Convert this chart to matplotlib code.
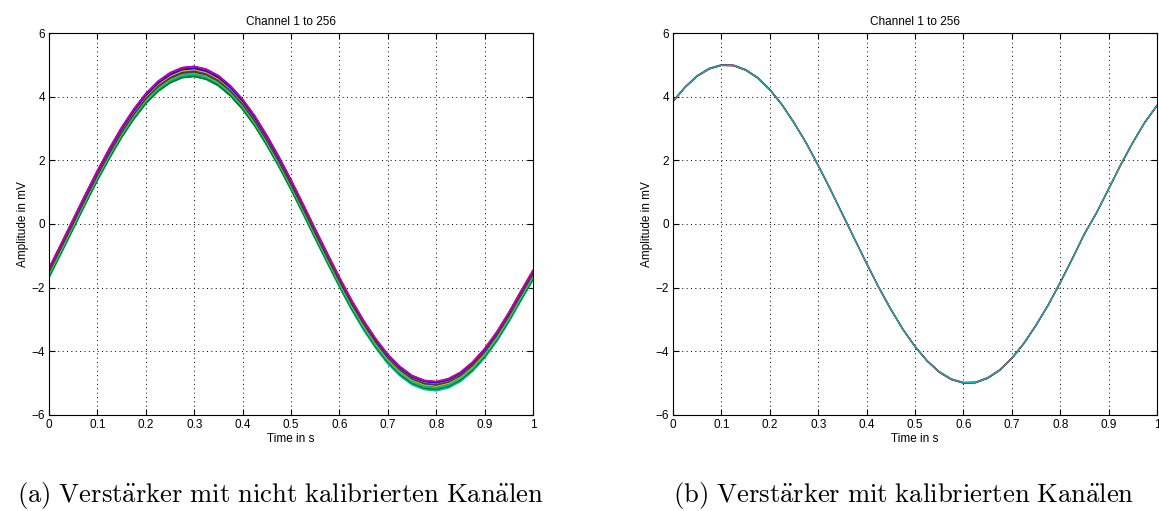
import matplotlib
matplotlib.use("Agg")
import matplotlib.pyplot as plt
import numpy as np

# ---- data ----
time_s = [round(0.025 * k, 3) for k in range(41)]
uncal_base = [-1.53, -0.77, 0.00, 0.77, 1.52, 2.22, 2.87, 3.44, 3.93, 4.31,
              4.58, 4.74, 4.78, 4.69, 4.49, 4.17, 3.75, 3.23, 2.62, 1.95,
              1.23, 0.47, -0.31, -1.07, -1.82, -2.53, -3.17, -3.74, -4.23, -4.61,
              -4.89, -5.04, -5.08, -4.99, -4.79, -4.47, -4.05, -3.53, -2.92, -2.25,
              -1.60]
uncal_offsets = [0.02, -0.12, 0.13, -0.09, 0.14, 0.11, -0.01,
                 -0.04, -0.14, 0.08, -0.13, 0.12, 0.06, 0.03,
                 0.04, -0.10, 0.10, -0.11, 0.05, -0.06, 0.00,
                 -0.06, -0.08, 0.09, -0.15, 0.13, 0.07, -0.03,
                 0.10, -0.13, 0.15, -0.07, 0.15, -0.02, 0.01]
uncal_gains = [1.004, 0.998, 1.003, 0.996, 1.005, 1.000, 0.999,
               1.000, 1.002, 0.997, 0.998, 1.004, 1.002, 1.001,
               1.000, 0.996, 1.004, 0.998, 1.000, 0.999, 1.002,
               0.999, 1.000, 0.997, 1.002, 1.004, 1.000, 0.999,
               1.002, 0.997, 1.004, 1.000, 1.005, 0.999, 0.997]

cal_base = [3.85, 4.30, 4.65, 4.88, 4.99, 4.98, 4.84, 4.59, 4.22, 3.75,
            3.18, 2.55, 1.84, 1.09, 0.31, -0.47, -1.24, -1.99, -2.68, -3.31,
            -3.85, -4.30, -4.65, -4.88, -4.99, -4.98, -4.84, -4.59, -4.22, -3.75,
            -3.18, -2.55, -1.84, -1.09, -0.31, 0.35, 1.10, 1.86, 2.56, 3.20,
            3.72]
cal_offsets = [0.015, -0.015, 0.01, -0.01, 0.0, -0.005, 0.0]

matlab_colors = [(0, 0, 1), (0, 0.5, 0), (1, 0, 0), (0, 0.75, 0.75),
                 (0.75, 0, 0.75), (0.75, 0.75, 0), (0.25, 0.25, 0.25)]

x_ticks = [0, 0.1, 0.2, 0.3, 0.4, 0.5, 0.6, 0.7, 0.8, 0.9, 1]
x_tick_labels = ["0", "0.1", "0.2", "0.3", "0.4", "0.5", "0.6", "0.7", "0.8", "0.9", "1"]
y_ticks = [-6, -4, -2, 0, 2, 4, 6]

plt.rcParams['font.family'] = ['Liberation Sans', 'DejaVu Sans']
plt.rcParams['mathtext.fontset'] = 'cm'

fig = plt.figure(figsize=(11.59, 5.11), dpi=100)
ax1 = fig.add_axes([0.0423, 0.1879, 0.4176, 0.7475])
ax2 = fig.add_axes([0.5807, 0.1879, 0.4176, 0.7475])

t = np.array(time_s)
base_u = np.array(uncal_base)
for i, (o, g) in enumerate(zip(uncal_offsets, uncal_gains)):
    ax1.plot(t, base_u * g + o, color=matlab_colors[i % 7], lw=1.1)

base_c = np.array(cal_base)
for i, o in enumerate(cal_offsets):
    ax2.plot(t, base_c + o, color=matlab_colors[(i + 4) % 7], lw=0.8)

for ax in (ax1, ax2):
    ax.set_xlim(0, 1)
    ax.set_ylim(-6, 6)
    ax.set_xticks(x_ticks)
    ax.set_xticklabels(x_tick_labels)
    ax.set_yticks(y_ticks)
    ax.tick_params(direction='in', top=True, right=True, labelsize=8.5,
                   length=4, width=0.8, pad=3)
    ax.grid(True, color='black', linestyle=(0, (1, 3.5)), linewidth=0.7)
    for s in ax.spines.values():
        s.set_linewidth(0.8)
    ax.set_title("Channel 1 to 256", fontsize=8.5, pad=6)
    ax.set_xlabel("Time in s", fontsize=8.5, labelpad=1)
    ax.set_ylabel("Amplitude in mV", fontsize=8.5, labelpad=2)

fig.text(0.2416, 0.031, r"$\mathrm{(a)\ Verst\ddot{a}rker\ mit\ nicht\ kalibrierten\ Kan\ddot{a}len}$",
         ha='center', va='center', fontsize=19.2)
fig.text(0.7796, 0.031, r"$\mathrm{(b)\ Verst\ddot{a}rker\ mit\ kalibrierten\ Kan\ddot{a}len}$",
         ha='center', va='center', fontsize=19.2)

fig.savefig("out.png", dpi=100)
